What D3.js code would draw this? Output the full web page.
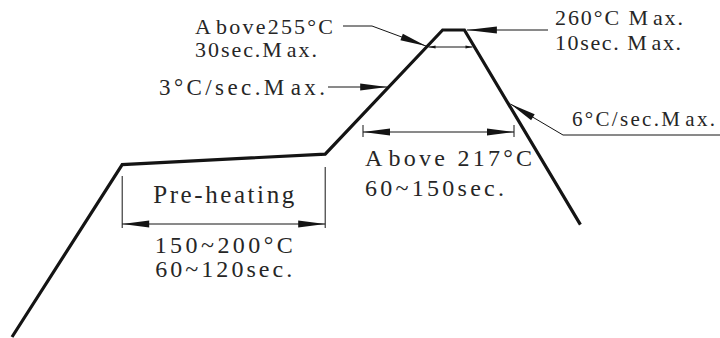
<!DOCTYPE html>
<html>
<head>
<meta charset="utf-8">
<script src="https://cdn.jsdelivr.net/npm/d3@7"></script>
<style>
  html, body { margin: 0; padding: 0; background: #fff; }
  svg { display: block; }
  text { font-family: "Liberation Serif", "Times New Roman", serif; fill: #262626; }
</style>
</head>
<body>
<svg id="chart" width="720" height="338"></svg>
<script>
// ---- Data: schematic reflow profile (time in s, temperature in °C) ----
const profileTime = [0, 76, 216, 297, 312, 392];
const profileTemp = [25, 157, 165, 260, 260, 111];

// ---- Annotation texts ----
const preheatLabel = "Pre-heating";
const preheatLines = ["150~200°C", "60~120sec."];
const liquidusLines = ["Above 217°C", "60~150sec."];
const peakZoneLines = ["Above255°C", "30sec.Max."];
const rampUpLabel = "3°C/sec.Max.";
const peakLines = ["260°C Max.", "10sec. Max."];
const rampDownLabel = "6°C/sec.Max.";

const svg = d3.select("#chart");
const x = d3.scaleLinear().domain([0, 400]).range([12, 592]);
const y = d3.scaleLinear().domain([25, 260]).range([337, 30]);

const pts = profileTime.map((t, i) => [x(t), y(profileTemp[i])]);
const ink = "#141414";

// profile line
svg.append("path")
  .attr("d", d3.line()(pts))
  .attr("fill", "none")
  .attr("stroke", ink)
  .attr("stroke-width", 3.2)
  .attr("stroke-linejoin", "miter");

// helpers
function xOnSegment(a, b, yy) {
  return a[0] + (yy - a[1]) / (b[1] - a[1]) * (b[0] - a[0]);
}
function thin(points) {
  svg.append("path").attr("d", d3.line()(points))
    .attr("fill", "none").attr("stroke", ink).attr("stroke-width", 1);
}
function arrow(tip, from, len, hw) {
  const dx = tip[0] - from[0], dy = tip[1] - from[1];
  const L = Math.hypot(dx, dy), ux = dx / L, uy = dy / L;
  const bx = tip[0] - ux * len, by = tip[1] - uy * len;
  const p = [tip, [bx - uy * hw, by + ux * hw], [bx + uy * hw, by - ux * hw]];
  svg.append("path").attr("d", "M" + p.map(q => q.join(",")).join("L") + "Z")
    .attr("fill", ink);
}
// the drawing's font leaves a wider gap after capital "A" and "M"
function label(str, xx, yy, size, len, anchor) {
  const t = svg.append("text").attr("x", xx).attr("y", yy)
    .attr("font-size", size)
    .attr("text-anchor", anchor || "start")
    .attr("textLength", len).attr("lengthAdjust", "spacing");
  const parts = str.split(/(?<=[AM])(?=[a-z])/);
  parts.forEach((s, i) => {
    const sp = t.append("tspan").text(s);
    if (i > 0) sp.attr("dx", 3);
  });
}

// --- Pre-heating dimension ---
const pA = pts[1], pB = pts[2];
thin([[pA[0], 176], [pA[0], 228]]);
thin([[pB[0], 167], [pB[0], 228]]);
thin([[pA[0], 224], [pB[0], 224]]);
arrow([pA[0], 224], [pB[0], 224], 27, 3.5);
arrow([pB[0], 224], [pA[0], 224], 27, 3.5);
const cx = (pA[0] + pB[0]) / 2;
label(preheatLabel, cx, 203, 25, 141, "middle");
label(preheatLines[0], cx, 253, 24, 138, "middle");
label(preheatLines[1], cx, 277, 24, 137, "middle");

// --- Above 217 dimension ---
const dL = 363, dR = 514, dy217 = 132;
thin([[dL, 125], [dL, 137]]);
thin([[dR, 125], [dR, 137]]);
thin([[dL, dy217], [dR, dy217]]);
arrow([dL, dy217], [dR, dy217], 27, 3.5);
arrow([dR, dy217], [dL, dy217], 27, 3.5);
label(liquidusLines[0], 365, 166, 24, 167);
label(liquidusLines[1], 365, 196, 24, 139);

// --- Above 255 small dimension across peak ---
const yz = 47;
const zl = xOnSegment(pts[2], pts[3], yz) + 2;
const zr = xOnSegment(pts[4], pts[5], yz) - 2;
thin([[zl, yz], [zr, yz]]);
arrow([zl, yz], [zr, yz], 7, 1.5);
arrow([zr, yz], [zl, yz], 7, 1.5);

// leader for Above255
const t255 = [xOnSegment(pts[2], pts[3], 46) - 1.5, 46];
thin([[343, 26], [372, 26], t255]);
arrow(t255, [372, 26], 26, 3.5);
label(peakZoneLines[0], 195, 34, 22, 138);
label(peakZoneLines[1], 195, 57, 22, 122);

// leader for 3°C/sec
const tUp = [xOnSegment(pts[2], pts[3], 87) - 1.5, 87];
thin([[328, 87], tUp]);
arrow(tUp, [328, 87], 27, 3.5);
label(rampUpLabel, 325, 95, 23, 166, "end");

// leader for 260°C
const tPk = [pts[4][0] + 2.5, pts[4][1]];
thin([[548, 30], tPk]);
arrow(tPk, [548, 30], 30, 3.5);
label(peakLines[0], 555, 25, 22, 128);
label(peakLines[1], 555, 50, 22, 126);

// leader for 6°C/sec
const tDn = [xOnSegment(pts[4], pts[5], 104) + 2, 104];
thin([[720, 135], [563, 135], tDn]);
arrow(tDn, [563, 135], 26, 3.5);
label(rampDownLabel, 572, 126, 21, 143);
</script>
</body>
</html>
